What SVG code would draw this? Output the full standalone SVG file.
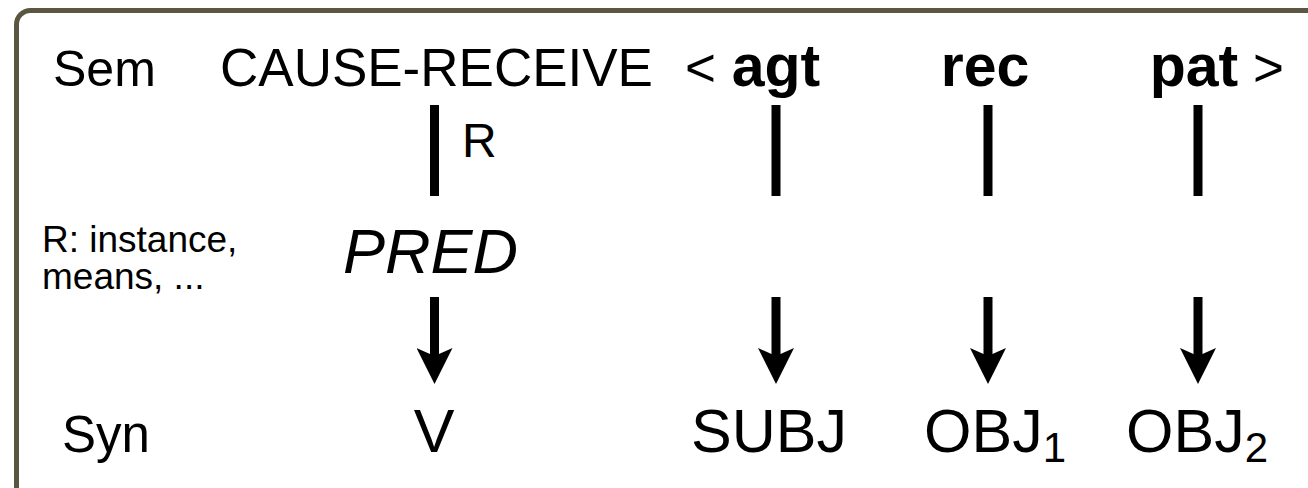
<svg xmlns="http://www.w3.org/2000/svg" width="1308" height="488" viewBox="0 0 1308 488">
  <style>
    text { font-family: "Liberation Sans", Arial, sans-serif; fill: #000; }
    .lg { font-size: 53px; }
    .bd { font-size: 59px; font-weight: bold; }
    .sm { font-size: 37px; }
    .syn { font-size: 61px; }
    .sub { font-size: 42px; }
    .bar { stroke: #000; stroke-width: 9; fill: none; }
    .arrow { stroke: #000; stroke-width: 9; fill: none; marker-end: url(#head); }
  </style>
  <defs>
    <marker id="head" viewBox="0 0 40 36" refX="12" refY="18" markerWidth="40" markerHeight="36" markerUnits="userSpaceOnUse" orient="auto">
      <path d="M0,0 L36,18 L0,36 L8,18 Z" fill="#000"/>
    </marker>
  </defs>

  <!-- frame -->
  <rect x="16.5" y="10.5" width="1320" height="490" rx="14" ry="14" fill="#fff" stroke="#5a5642" stroke-width="5"/>

  <!-- row labels -->
  <g id="sem-label"><text x="53" y="86" style="font-size:50px">Sem</text></g>
  <g id="syn-label"><text x="62" y="452" style="font-size:51px">Syn</text></g>
  <g id="r-note">
    <text class="sm" x="42" y="252">R: instance,</text>
    <text class="sm" x="42" y="289">means, ...</text>
  </g>

  <!-- semantic row -->
  <g id="cause-receive"><text class="lg" x="220" y="86">CAUSE-RECEIVE</text></g>
  <g id="agt">
    <text class="lg" x="685" y="86">&lt;</text>
    <text class="bd" x="776" y="86" text-anchor="middle">agt</text>
  </g>
  <g id="rec"><text class="bd" x="985" y="86" text-anchor="middle">rec</text></g>
  <g id="pat">
    <text class="bd" x="1194" y="86" text-anchor="middle">pat</text>
    <text class="lg" x="1253" y="86">&gt;</text>
  </g>

  <!-- predicate -->
  <g id="pred"><text x="343" y="273" style="font-size:63px;font-style:italic">PRED</text></g>

  <!-- syntactic row -->
  <g id="v"><text class="syn" x="434" y="452" text-anchor="middle">V</text></g>
  <g id="subj"><text class="syn" x="769" y="452" text-anchor="middle">SUBJ</text></g>
  <g id="obj1"><text class="syn" x="924" y="452">OBJ<tspan class="sub" dy="10">1</tspan></text></g>
  <g id="obj2"><text class="syn" x="1126" y="452">OBJ<tspan class="sub" dy="10">2</tspan></text></g>

  <!-- connectors -->
  <g id="connectors">
    <line class="bar" x1="434.5" y1="105" x2="434.5" y2="196"/>
    <text x="462" y="157" style="font-size:48px">R</text>
    <line class="bar" x1="776" y1="105" x2="776" y2="196"/>
    <line class="bar" x1="988" y1="105" x2="988" y2="196"/>
    <line class="bar" x1="1198" y1="105" x2="1198" y2="196"/>

    <line class="arrow" x1="434.5" y1="297" x2="434.5" y2="360"/>
    <line class="arrow" x1="776" y1="297" x2="776" y2="360"/>
    <line class="arrow" x1="988" y1="297" x2="988" y2="360"/>
    <line class="arrow" x1="1198" y1="297" x2="1198" y2="360"/>
  </g>
</svg>
